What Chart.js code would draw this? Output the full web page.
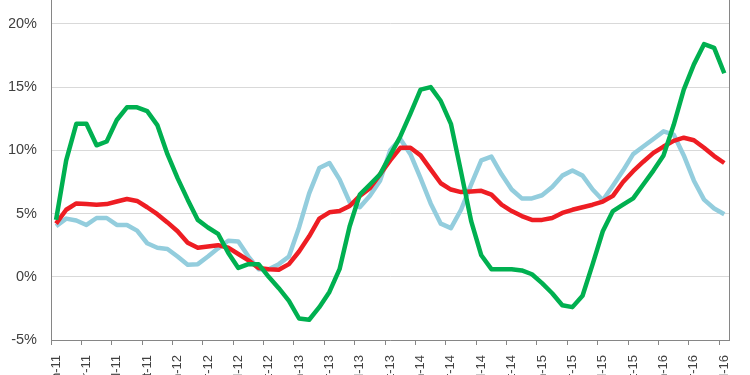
<!DOCTYPE html>
<html>
<head>
<meta charset="utf-8">
<script src="https://cdn.jsdelivr.net/npm/chart.js@4.4.1/dist/chart.umd.min.js"></script>
<style>
  html, body { margin: 0; padding: 0; background: #fff; overflow: hidden; width: 750px; height: 375px; }
  #wrap { position: absolute; left: 0; top: -62px; width: 750px; height: 462px; }
</style>
</head>
<body>
<div id="wrap"><canvas id="growthChart"></canvas></div>
<script>
const months = [
  'Jan-11','Feb-11','Mar-11','Apr-11','May-11','Jun-11','Jul-11','Aug-11','Sep-11','Oct-11','Nov-11','Dec-11',
  'Jan-12','Feb-12','Mar-12','Apr-12','May-12','Jun-12','Jul-12','Aug-12','Sep-12','Oct-12','Nov-12','Dec-12',
  'Jan-13','Feb-13','Mar-13','Apr-13','May-13','Jun-13','Jul-13','Aug-13','Sep-13','Oct-13','Nov-13','Dec-13',
  'Jan-14','Feb-14','Mar-14','Apr-14','May-14','Jun-14','Jul-14','Aug-14','Sep-14','Oct-14','Nov-14','Dec-14',
  'Jan-15','Feb-15','Mar-15','Apr-15','May-15','Jun-15','Jul-15','Aug-15','Sep-15','Oct-15','Nov-15','Dec-15',
  'Jan-16','Feb-16','Mar-16','Apr-16','May-16','Jun-16','Jul-16'
];

const greenSeries = [4.5, 9.2, 12.1, 12.1, 10.4, 10.7, 12.4, 13.4, 13.4, 13.1,
  12.0, 9.7, 7.8, 6.1, 4.5, 3.9, 3.4, 1.9, 0.7, 1.0,
  1.0, 0.0, -0.9, -1.9, -3.3, -3.4, -2.4, -1.2, 0.6, 4.0,
  6.5, 7.3, 8.1, 9.6, 11.1, 12.9, 14.8, 15.0, 13.9, 12.1,
  8.3, 4.4, 1.7, 0.6, 0.6, 0.6, 0.5, 0.2, -0.5, -1.3,
  -2.25, -2.4, -1.5, 1.0, 3.6, 5.2, 5.7, 6.2, 7.3, 8.4,
  9.6, 12.0, 14.8, 16.8, 18.4, 18.1, 16.1];

const redSeries = [4.2, 5.3, 5.8, 5.75, 5.7, 5.75, 5.95, 6.15, 6.0, 5.5,
  4.95, 4.3, 3.6, 2.7, 2.3, 2.4, 2.5, 2.3, 1.8, 1.3,
  0.7, 0.6, 0.55, 1.0, 2.0, 3.2, 4.6, 5.1, 5.2, 5.6,
  6.4, 7.0, 8.1, 9.2, 10.2, 10.2, 9.6, 8.5, 7.4, 6.9,
  6.7, 6.75, 6.8, 6.5, 5.7, 5.2, 4.8, 4.5, 4.5, 4.65,
  5.05, 5.3, 5.5, 5.7, 5.95, 6.4, 7.5, 8.35, 9.1, 9.8,
  10.3, 10.75, 11.0, 10.8, 10.2, 9.55, 9.0];

const blueSeries = [4.0, 4.6, 4.45, 4.1, 4.65, 4.65, 4.1, 4.1, 3.65, 2.65,
  2.3, 2.2, 1.6, 0.95, 1.0, 1.6, 2.25, 2.85, 2.8, 1.6,
  0.6, 0.6, 1.0, 1.6, 3.9, 6.6, 8.6, 9.0, 7.7, 5.9,
  5.5, 6.4, 7.6, 10.0, 10.9, 9.7, 7.8, 5.8, 4.2, 3.85,
  5.3, 7.3, 9.2, 9.5, 8.1, 6.9, 6.2, 6.2, 6.45, 7.1,
  8.0, 8.4, 8.0, 6.9, 6.05, 7.2, 8.4, 9.7, 10.3, 10.9,
  11.5, 11.25, 9.6, 7.6, 6.1, 5.4, 4.95];

const yMin = -5;
const yMax = 25;
const yStep = 5;
const labelEvery = 3;

const axisGrey = '#868686';

Chart.defaults.font.family = "'Liberation Sans', Arial, sans-serif";
Chart.defaults.font.size = 14;
Chart.defaults.color = '#404040';

// right-hand plot border, Excel style
const plotBorder = {
  id: 'plotBorder',
  afterDraw(chart) {
    const { ctx, chartArea } = chart;
    ctx.save();
    ctx.strokeStyle = axisGrey;
    ctx.lineWidth = 1;
    ctx.beginPath();
    ctx.moveTo(Math.round(chartArea.right) + 0.5, chartArea.top);
    ctx.lineTo(Math.round(chartArea.right) + 0.5, chartArea.bottom);
    ctx.stroke();
    ctx.restore();
  }
};

const lineStyle = {
  borderWidth: 4.5,
  pointRadius: 0,
  tension: 0,
  fill: false,
  borderJoinStyle: 'round'
};

new Chart(document.getElementById('growthChart'), {
  type: 'line',
  data: {
    labels: months,
    datasets: [
      { ...lineStyle, label: 'green', data: greenSeries, borderColor: '#00B050' },
      { ...lineStyle, label: 'red', data: redSeries, borderColor: '#EE1D23' },
      { ...lineStyle, label: 'blue', data: blueSeries, borderColor: '#93CDDD' }
    ]
  },
  options: {
    responsive: true,
    maintainAspectRatio: false,
    animation: false,
    layout: { padding: { left: 9, right: 16, top: 10, bottom: 0 } },
    plugins: { legend: { display: false }, tooltip: { enabled: false } },
    scales: {
      x: {
        offset: true,
        grid: {
          offset: true,
          drawOnChartArea: false,
          drawTicks: true,
          tickLength: 5,
          tickColor: (c) => (c.index % labelEvery === 0 ? axisGrey : 'rgba(0,0,0,0)')
        },
        border: { color: axisGrey, width: 1 },
        ticks: {
          autoSkip: false,
          minRotation: 90,
          maxRotation: 90,
          padding: 10,
          font: { size: 13 },
          callback: function (val, index) {
            return index % labelEvery === 0 ? this.getLabelForValue(val) : '';
          }
        },
        afterFit: (s) => { s.height = 60; }
      },
      y: {
        min: yMin,
        max: yMax,
        grid: { color: '#D9D9D9', lineWidth: 1, drawTicks: false },
        border: { color: axisGrey, width: 1 },
        ticks: {
          stepSize: yStep,
          padding: 14,
          font: { size: 14.5 },
          callback: (v) => v + '%'
        },
        afterFit: (s) => { s.width = 42; }
      }
    }
  },
  plugins: [plotBorder]
});
</script>
</body>
</html>
